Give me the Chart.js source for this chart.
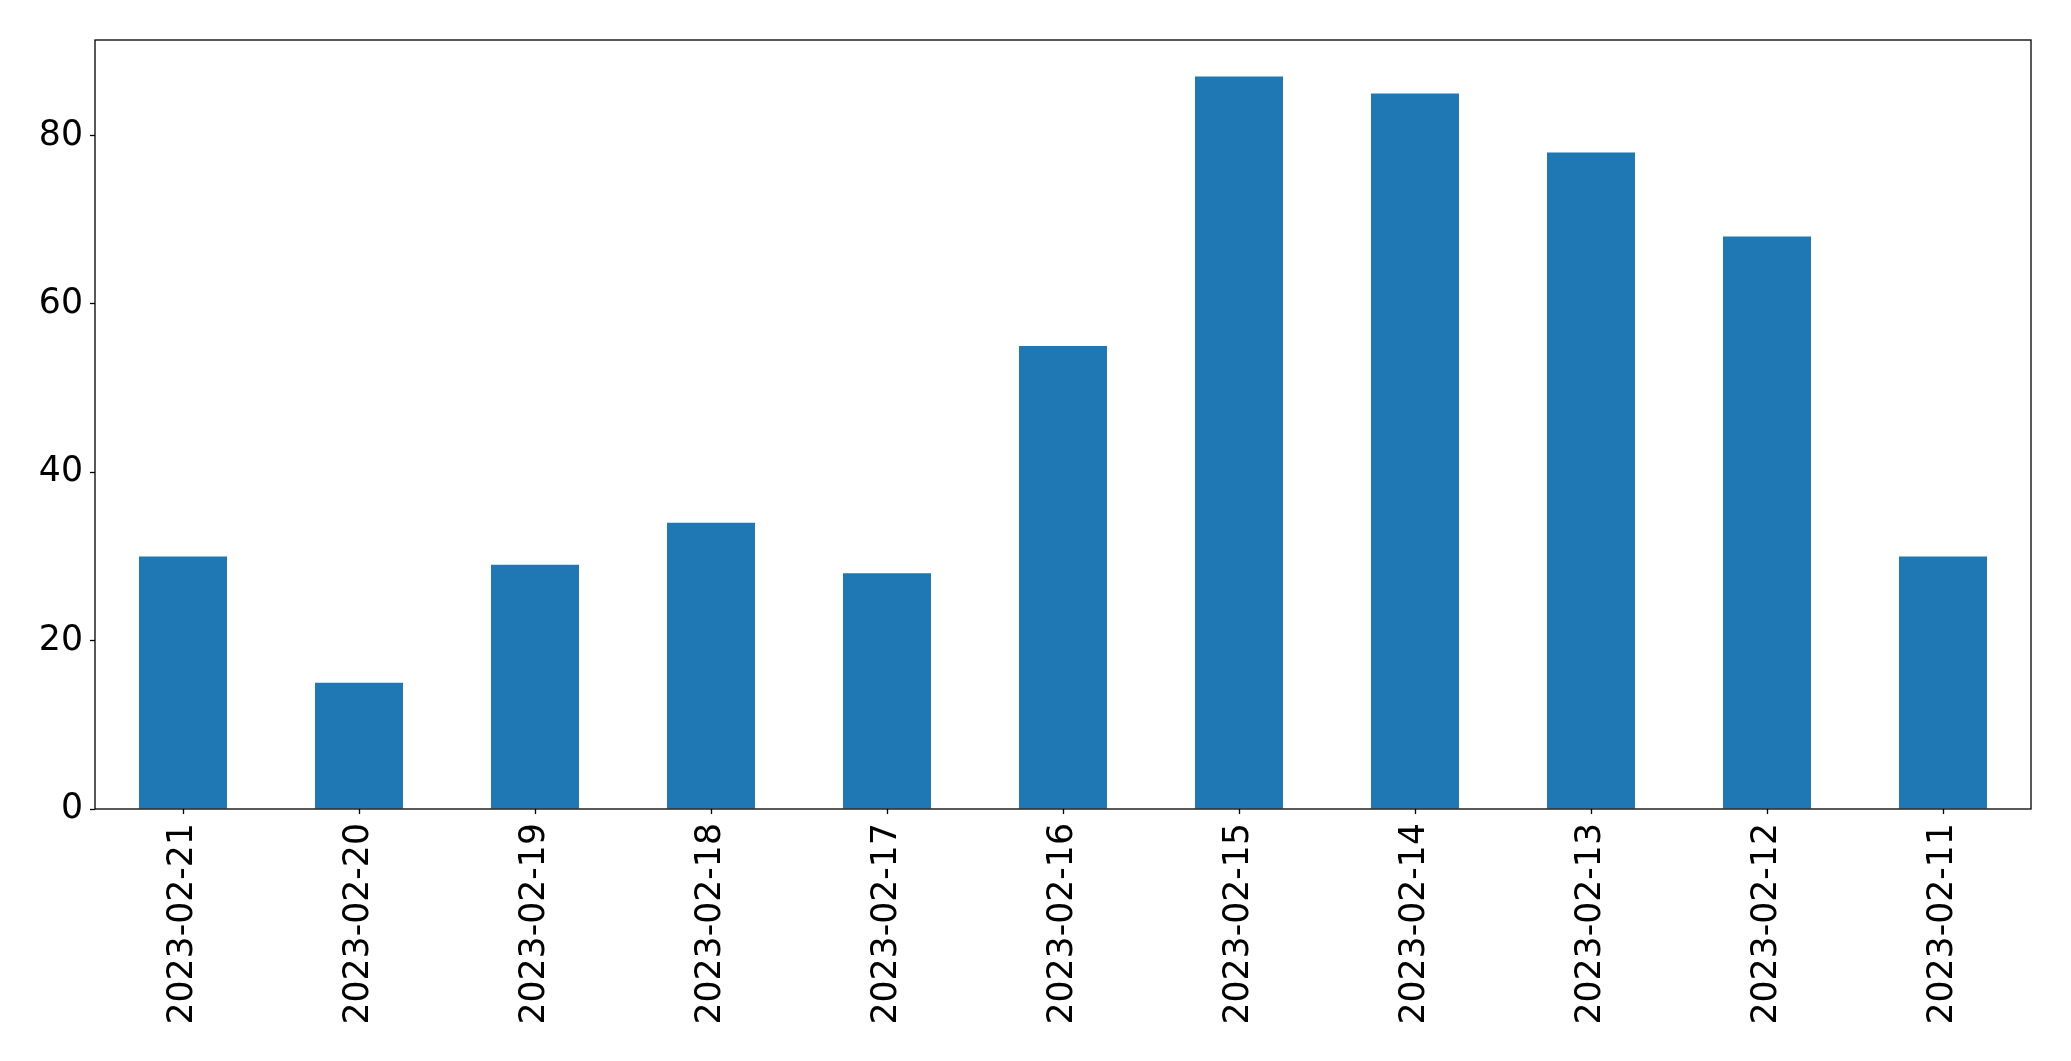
<!DOCTYPE html>
<html>
<head>
<meta charset="utf-8">
<script src="https://cdn.jsdelivr.net/npm/chart.js@4/dist/chart.umd.min.js"></script>
<style>
  html, body { margin: 0; padding: 0; background: #fff; }
  #wrap { width: 2071px; height: 1061px; }
</style>
</head>
<body>
<div id="wrap"><canvas id="chart" width="2071" height="1061"></canvas></div>
<script>
// data
const dates = ["2023-02-21", "2023-02-20", "2023-02-19", "2023-02-18", "2023-02-17", "2023-02-16",
               "2023-02-15", "2023-02-14", "2023-02-13", "2023-02-12", "2023-02-11"];
const counts = [30, 15, 29, 34, 28, 55, 87, 85, 78, 68, 30];
const yTicks = [0, 20, 40, 60, 80];

// box around the plot area, like matplotlib spines
const frame = {
    id: "frame",
    afterDatasetsDraw(chart) {
        const { ctx, chartArea: a } = chart;
        ctx.save();
        ctx.strokeStyle = "#000";
        ctx.lineWidth = 1.3;
        ctx.strokeRect(a.left, a.top, a.right - a.left, a.bottom - a.top);
        ctx.restore();
    }
};

const font = { family: "'DejaVu Sans', sans-serif", size: 34.7 };

new Chart(document.getElementById("chart"), {
    type: "bar",
    data: {
        labels: dates,
        datasets: [{
            data: counts,
            backgroundColor: "#1f77b4",
            borderWidth: 0,
            barPercentage: 0.5,
            categoryPercentage: 1.0
        }]
    },
    options: {
        responsive: false,
        animation: false,
        layout: { padding: { left: 0, top: 40, right: 40, bottom: 0 } },
        plugins: { legend: { display: false }, tooltip: { enabled: false } },
        scales: {
            x: {
                offset: true,
                grid: { drawOnChartArea: false, drawTicks: true, tickLength: 5, tickColor: "#000", tickWidth: 1.3, offset: false },
                border: { display: false },
                ticks: { color: "#000", font, minRotation: 90, maxRotation: 90, padding: 9, autoSkip: false },
                afterFit(scale) { scale.height = 252; }
            },
            y: {
                min: 0,
                max: Math.max(...counts) * 1.05,
                grid: { drawOnChartArea: false, drawTicks: true, tickLength: 5, tickColor: "#000", tickWidth: 1.3 },
                border: { display: false },
                ticks: {
                    color: "#000", font, padding: 7, stepSize: 20, includeBounds: false,
                    callback: v => yTicks.includes(v) ? v : null
                },
                afterFit(scale) { scale.width = 95; }
            }
        }
    },
    plugins: [frame]
});
</script>
</body>
</html>
